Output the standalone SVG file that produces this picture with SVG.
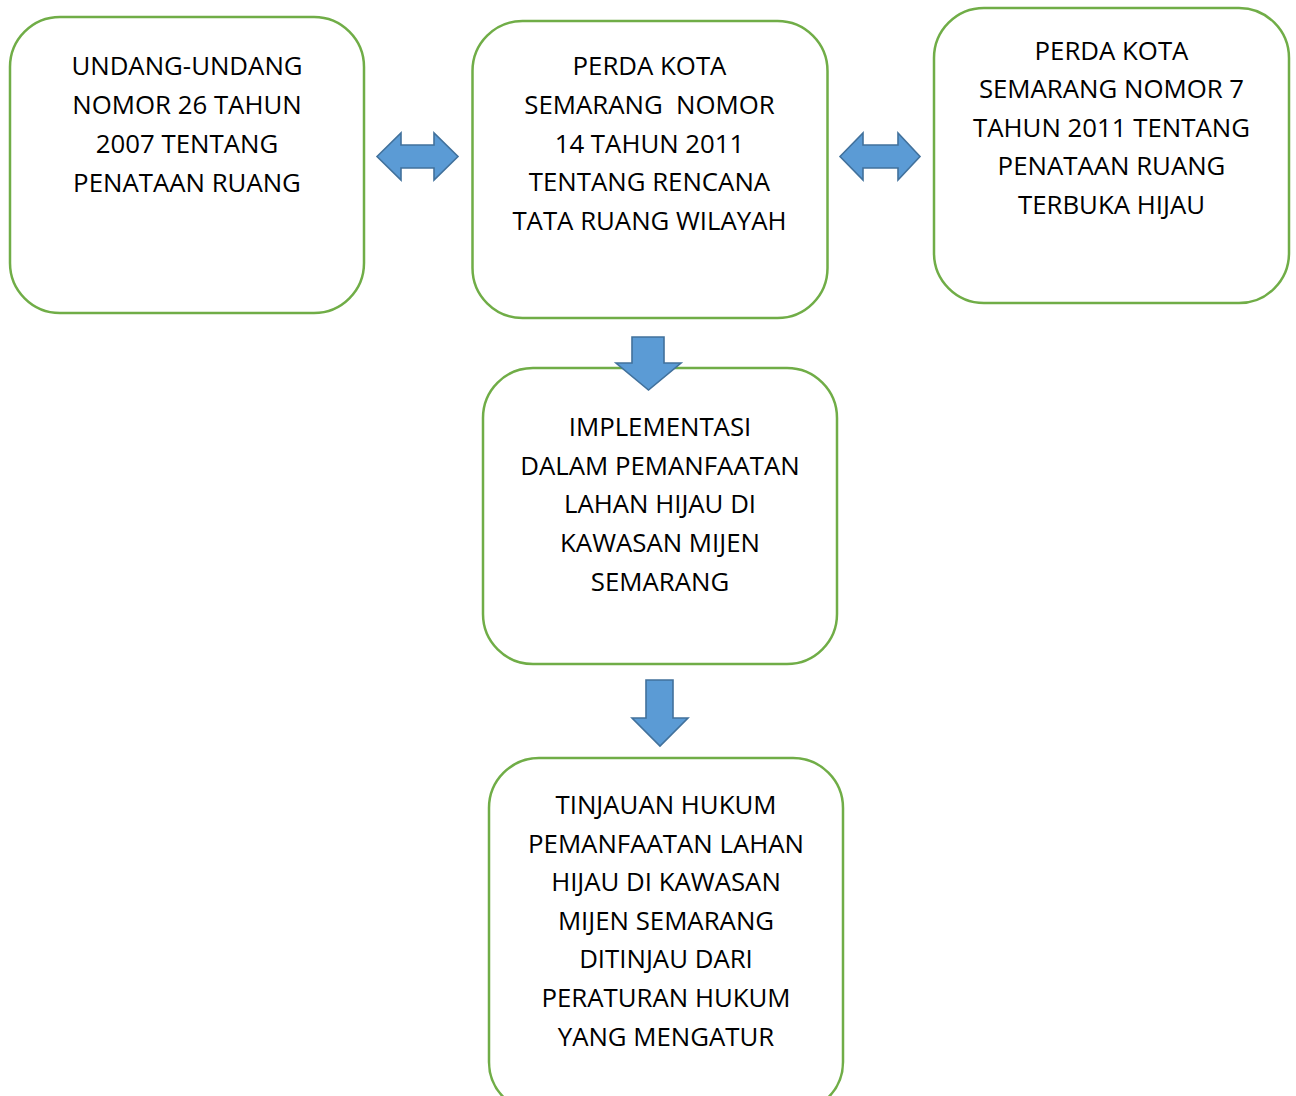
<svg xmlns="http://www.w3.org/2000/svg" width="1296" height="1096" viewBox="0 0 1296 1096">
<style>
.box{fill:#FFFFFF;stroke:#70AD47;stroke-width:2.5}
.arr{fill:#5B9BD5;stroke:#41719C;stroke-width:1.6;stroke-linejoin:miter}
.t{font-family:"Open Sans","Noto Sans",sans-serif;font-size:25.8px;fill:#000000;text-anchor:middle;white-space:pre;font-variant-ligatures:none;font-feature-settings:"liga" 0,"clig" 0,"dlig" 0,"kern" 1}
</style>
<rect width="1296" height="1096" fill="#FFFFFF"/>
<g id="node-uu">
<rect class="box" x="10" y="17" width="354" height="296" rx="50" ry="50"/>
<text class="t" x="187" y="75">UNDANG-UNDANG</text>
<text class="t" x="187" y="113.9">NOMOR 26 TAHUN</text>
<text class="t" x="187" y="152.8">2007 TENTANG</text>
<text class="t" x="187" y="191.7">PENATAAN RUANG</text>
</g>
<g id="node-perda14">
<rect class="box" x="472.5" y="21" width="355" height="297" rx="50" ry="50"/>
<text class="t" x="649.5" y="75">PERDA KOTA</text>
<text class="t" x="649.5" y="113.5" xml:space="preserve">SEMARANG  NOMOR</text>
<text class="t" x="649.5" y="152.5">14 TAHUN 2011</text>
<text class="t" x="649.5" y="191">TENTANG RENCANA</text>
<text class="t" x="649.5" y="229.5">TATA RUANG WILAYAH</text>
</g>
<g id="node-perda7">
<rect class="box" x="934" y="8" width="355" height="295" rx="50" ry="50"/>
<text class="t" x="1111.5" y="60">PERDA KOTA</text>
<text class="t" x="1111.5" y="98.4">SEMARANG NOMOR 7</text>
<text class="t" x="1111.5" y="136.8">TAHUN 2011 TENTANG</text>
<text class="t" x="1111.5" y="175.2">PENATAAN RUANG</text>
<text class="t" x="1111.5" y="213.6">TERBUKA HIJAU</text>
</g>
<g id="node-implementasi">
<rect class="box" x="483" y="368" width="354" height="296" rx="50" ry="50"/>
<text class="t" x="660" y="436">IMPLEMENTASI</text>
<text class="t" x="660" y="474.7">DALAM PEMANFAATAN</text>
<text class="t" x="660" y="513.4">LAHAN HIJAU DI</text>
<text class="t" x="660" y="552.1">KAWASAN MIJEN</text>
<text class="t" x="660" y="590.8">SEMARANG</text>
</g>
<g id="node-tinjauan">
<rect class="box" x="489" y="758" width="354" height="354" rx="50" ry="50"/>
<text class="t" x="666" y="814">TINJAUAN HUKUM</text>
<text class="t" x="666" y="852.6">PEMANFAATAN LAHAN</text>
<text class="t" x="666" y="891.2">HIJAU DI KAWASAN</text>
<text class="t" x="666" y="929.8">MIJEN SEMARANG</text>
<text class="t" x="666" y="968.4">DITINJAU DARI</text>
<text class="t" x="666" y="1007">PERATURAN HUKUM</text>
<text class="t" x="666" y="1045.6">YANG MENGATUR</text>
</g>
<g id="connectors">
<polygon class="arr" points="377,156.5 401,133 401,145 434,145 434,133 458,156.5 434,180 434,168 401,168 401,180"/>
<polygon class="arr" points="840,156.5 863,133 863,145 898,145 898,133 920,156.5 898,180 898,168 863,168 863,180"/>
<polygon class="arr" points="632,337 664,337 664,363 681,363 648.5,390 616,363 632,363"/>
<polygon class="arr" points="646,680 673,680 673,718 688,718 660,746 632,718 646,718"/>
</g>
</svg>
